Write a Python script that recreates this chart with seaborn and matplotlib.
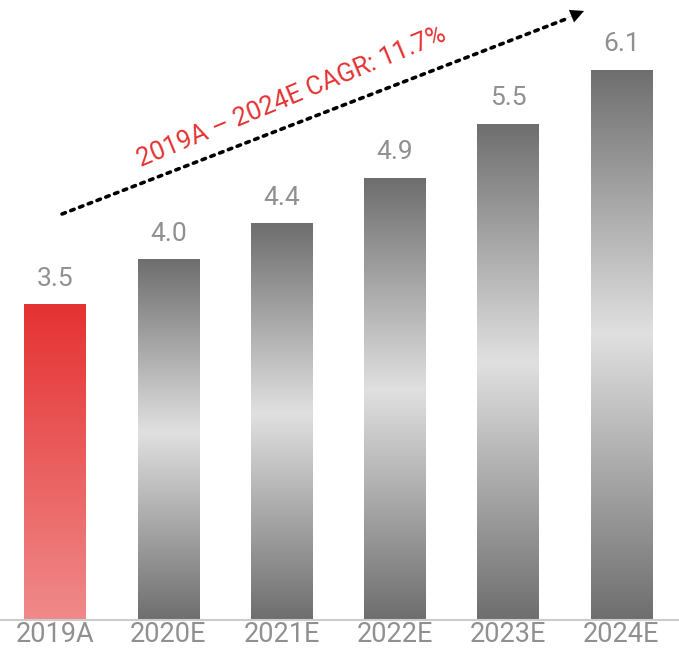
import numpy as np
import pandas as pd
import matplotlib
matplotlib.use("Agg")
import matplotlib.pyplot as plt
from matplotlib.colors import LinearSegmentedColormap
import seaborn as sns

years = ["2019A", "2020E", "2021E", "2022E", "2023E", "2024E"]
values = [3.5, 4.0, 4.4, 4.9, 5.5, 6.1]
cagr_label = "2019A – 2024E CAGR: 11.7%"

sns.set_theme(style="white")
plt.rcParams["font.family"] = ["Roboto", "DejaVu Sans"]

fig = plt.figure(figsize=(6.79, 6.66), dpi=100)
ax = fig.add_axes([0.0, 46 / 666, 1.0, 620 / 666])

df = pd.DataFrame({"year": years, "value": values})
sns.barplot(data=df, x="year", y="value", ax=ax, width=0.54, color="#777777",
            saturation=1)

red_cmap = LinearSegmentedColormap.from_list("red", ["#f08a8a", "#e53232"])
grey_cmap = LinearSegmentedColormap.from_list(
    "grey", [(0.0, "#6e6e6e"), (0.52, "#e0e0e0"), (1.0, "#6e6e6e")])

for i, patch in enumerate(ax.patches):
    x0, y0 = patch.get_x(), patch.get_y()
    w, h = patch.get_width(), patch.get_height()
    grad = np.linspace(0, 1, 256).reshape(-1, 1)
    cmap = red_cmap if i == 0 else grey_cmap
    im = ax.imshow(grad, cmap=cmap, aspect="auto", origin="lower",
                   extent=[x0, x0 + w, y0, y0 + h], zorder=2,
                   interpolation="bicubic")
    im.set_clip_path(patch)
    patch.set_facecolor("none")
    patch.set_edgecolor("none")

ax.set_xlim(-0.486, 5.51)
ax.set_ylim(0, 620 / 90.2)

for i, v in enumerate(values):
    ax.text(i, v + 0.15, f"{v:.1f}", ha="center", va="bottom",
            fontsize=19, color="#909090")

ax.set_xlabel("")
ax.set_ylabel("")
ax.set_yticks([])
ax.tick_params(axis="x", length=0, pad=1, labelsize=19.5, labelcolor="#909090")
for s in ["top", "left", "right"]:
    ax.spines[s].set_visible(False)
ax.spines["bottom"].set_color("#cccccc")
ax.spines["bottom"].set_linewidth(1.5)

# dotted trend arrow
ax.annotate("", xy=(566, 647), xytext=(62, 452),
            xycoords="figure pixels", textcoords="figure pixels",
            arrowprops=dict(arrowstyle="-", linestyle=(0, (1, 1.6)),
                            linewidth=2.6, color="black",
                            shrinkA=0, shrinkB=0))
ax.annotate("", xy=(584, 655), xytext=(562, 646),
            xycoords="figure pixels", textcoords="figure pixels",
            arrowprops=dict(arrowstyle="-|>", color="black", linewidth=0.1,
                            mutation_scale=24, shrinkA=0, shrinkB=0))

fig.text(292 / 679, (666 - 97) / 666, cagr_label, rotation=22.5,
         rotation_mode="anchor", ha="center", va="center",
         fontsize=18.5, color="#e53232")

fig.savefig("out.png", dpi=100)
